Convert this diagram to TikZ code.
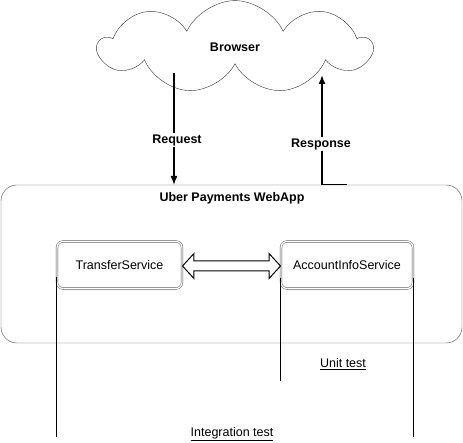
\documentclass[tikz,border=0pt]{standalone}
\usepackage{fontspec}
\setmainfont{Liberation Sans}
\usetikzlibrary{shapes.symbols,shapes.arrows,arrows.meta,positioning}

\begin{document}
\begin{tikzpicture}[x=1pt, y=-1pt,
  txt/.style={font=\fontsize{12.5}{14}\selectfont},
  btxt/.style={font=\bfseries\fontsize{12.5}{14}\selectfont},
  flow/.style={line width=1.5pt, -{Latex[length=9pt,width=7pt]}},
  svc/.style={draw=black!70, double, double distance=1.3pt, rounded corners=6pt, minimum height=47pt, txt},
  testline/.style={line width=0.9pt}]
\useasboundingbox (0,0) rectangle (463,443);
\node[cloud, cloud puffs=9, cloud puff arc=130, draw=black!80, minimum width=272pt, minimum height=80pt, btxt] (browser) at (235,47) {Browser};
\node[draw=black!70, rounded corners=16pt, minimum width=461pt, minimum height=158pt] (webapp) at (231.5,264) {};
\node[btxt] (webtitle) at (232,198) {Uber Payments WebApp};
\coordinate (reqtop) at (174,73);
\coordinate (reqbot) at (174,185);
\coordinate (respstub) at (347,184.5);
\coordinate (respbot) at (322,184.5);
\coordinate (resptop) at (322,75);
\draw[flow] (reqtop) -- (reqbot);
\draw[flow] (respstub) -- (respbot) -- (resptop);
\node[btxt, fill=white, inner sep=1pt] (reqlbl) at (177,140) {Request};
\node[btxt, fill=white, inner sep=1pt] (resplbl) at (321,144) {Response};
\node[svc, minimum width=125pt] (transfer) at (119.5,265) {TransferService};
\node[svc, minimum width=132pt] (account) at (347,265) {AccountInfoService};
\node[double arrow, draw, line width=1pt, inner sep=4.5pt, double arrow head extend=7.5pt, minimum height=98pt, double arrow tip angle=95] (link) at (231.5,266) {};
\coordinate (intL1) at (56,277);
\coordinate (intL2) at (56,437);
\coordinate (unitL1) at (280,278);
\coordinate (unitL2) at (280,381);
\coordinate (both1) at (413,278);
\coordinate (both2) at (413,437);
\draw[testline] (intL1) -- (intL2);
\draw[testline] (unitL1) -- (unitL2);
\draw[testline] (both1) -- (both2);
\node[txt] (unit) at (343,364) {\underline{Unit test}};
\node[txt] (integ) at (232,434) {\underline{Integration test}};
\end{tikzpicture}
\end{document}
